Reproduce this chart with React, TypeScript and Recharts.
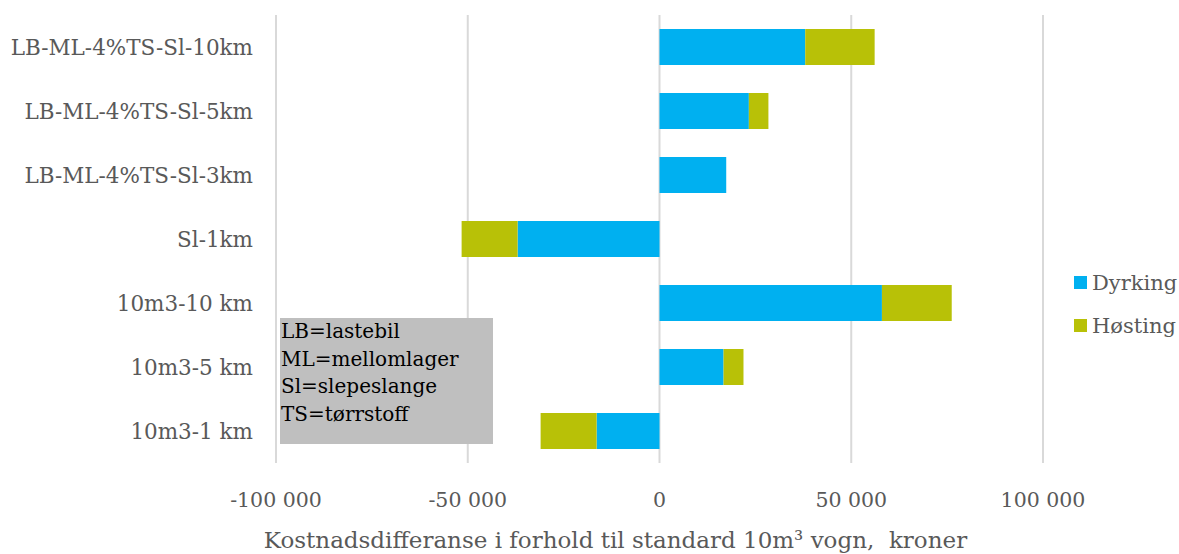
import React from 'react';
import {
  BarChart,
  Bar,
  XAxis,
  YAxis,
  CartesianGrid,
  Label,
} from 'recharts';

// Categories top to bottom, as in the reference
const categories = [
  'LB-ML-4%TS-Sl-10km',
  'LB-ML-4%TS-Sl-5km',
  'LB-ML-4%TS-Sl-3km',
  'Sl-1km',
  '10m3-10 km',
  '10m3-5 km',
  '10m3-1 km',
];

// Cost difference (kroner) per category
const dyrking = [38000, 23300, 17400, -37000, 58000, 16700, -16400];
const hosting = [18100, 5100, 0, -14600, 18200, 5200, -14600];

const xTicks = [-100000, -50000, 0, 50000, 100000];

const legendNotes = ['LB=lastebil', 'ML=mellomlager', 'Sl=slepeslange', 'TS=tørrstoff'];

const COLORS = { dyrking: '#00b0f0', hosting: '#b8c107' };
const FONT = '"DejaVu Serif", serif';

const data = categories.map((name, i) => ({
  name,
  Dyrking: dyrking[i],
  Høsting: hosting[i],
}));

const formatTick = (v: number) => {
  const s = Math.abs(v).toString().replace(/\B(?=(\d{3})+(?!\d))/g, ' ');
  return v < 0 ? `-${s}` : s;
};

const seriesLegend = [
  ['Dyrking', COLORS.dyrking],
  ['Høsting', COLORS.hosting],
];

export default function App() {
  return (
    <div style={{ position: 'absolute', left: 0, top: 0, width: 1179, height: 554, background: '#fff' }}>
      <BarChart
        width={1179}
        height={554}
        data={data}
        layout="vertical"
        stackOffset="sign"
        barSize={36}
        margin={{ top: 15, right: 136, bottom: 0, left: 0 }}
      >
        <CartesianGrid horizontal={false} stroke="#d9d9d9" strokeWidth={2} />
        <XAxis
          type="number"
          domain={[-100000, 100000]}
          ticks={xTicks}
          tickFormatter={formatTick}
          axisLine={false}
          tickLine={false}
          tickMargin={23}
          tick={{ fill: '#595959', fontSize: 20.5, fontFamily: FONT }}
          height={91}
        >
          <Label
            value={'Kostnadsdifferanse i forhold til standard 10m³ vogn,\u00a0 kroner'}
            position="insideBottom"
            offset={6}
            dx={-44}
            style={{ fill: '#595959', fontSize: 23, fontFamily: FONT }}
          />
        </XAxis>
        <YAxis
          type="category"
          dataKey="name"
          width={276}
          axisLine={false}
          tickLine={false}
          tickMargin={17}
          tick={{ fill: '#595959', fontSize: 21.5, fontFamily: FONT }}
        />
        <Bar dataKey="Dyrking" stackId="a" fill={COLORS.dyrking} isAnimationActive={false} />
        <Bar dataKey="Høsting" stackId="a" fill={COLORS.hosting} isAnimationActive={false} />
      </BarChart>
      <div
        style={{
          position: 'absolute',
          left: 1074,
          top: 261,
          fontFamily: FONT,
          fontSize: 21,
          color: '#595959',
        }}
      >
        {seriesLegend.map(([label, color]) => (
          <div key={label} style={{ display: 'flex', alignItems: 'center', height: 43 }}>
            <span style={{ width: 13, height: 13, background: color, marginRight: 5 }} />
            {label}
          </div>
        ))}
      </div>
      <div
        style={{
          position: 'absolute',
          left: 280,
          top: 318,
          width: 213,
          height: 126,
          background: '#bfbfbf',
          fontFamily: FONT,
          fontSize: 20,
          lineHeight: '27.5px',
          color: '#000',
          paddingLeft: 1,
          boxSizing: 'border-box',
        }}
      >
        {legendNotes.map((t) => (
          <div key={t}>{t}</div>
        ))}
      </div>
    </div>
  );
}
